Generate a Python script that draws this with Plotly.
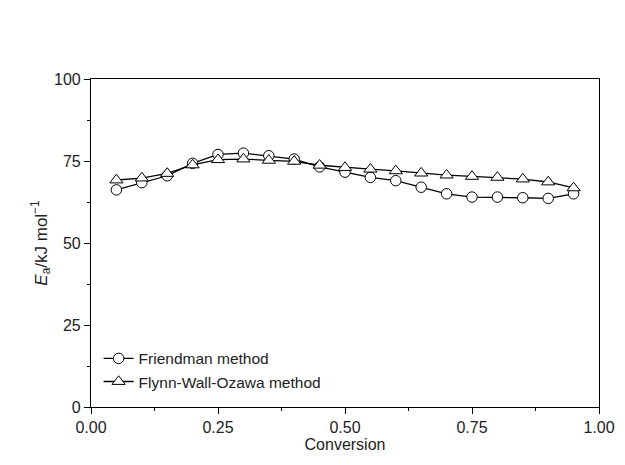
import plotly.graph_objects as go

conversion = [0.05, 0.10, 0.15, 0.20, 0.25, 0.30, 0.35, 0.40, 0.45, 0.50,
              0.55, 0.60, 0.65, 0.70, 0.75, 0.80, 0.85, 0.90, 0.95]
friedman = [66.2, 68.4, 70.5, 74.3, 77.0, 77.4, 76.6, 75.6, 73.2, 71.6,
            70.0, 69.0, 67.0, 65.0, 64.0, 64.0, 63.8, 63.6, 65.0]
fwo = [69.2, 69.8, 71.2, 73.8, 75.4, 75.6, 75.2, 74.9, 73.7, 73.0,
       72.5, 72.0, 71.3, 70.7, 70.3, 70.0, 69.5, 68.6, 66.8]

fig = go.Figure()
fig.add_trace(go.Scatter(
    x=conversion, y=friedman, mode="lines+markers", name="Friendman method",
    line=dict(color="black", width=1.3),
    marker=dict(symbol="circle", size=10.5, color="white", line=dict(color="black", width=1))))
fig.add_trace(go.Scatter(
    x=conversion, y=fwo, mode="lines+markers", name="Flynn-Wall-Ozawa method",
    line=dict(color="black", width=1.3),
    marker=dict(symbol="triangle-up", size=11.5, color="white", line=dict(color="black", width=1))))

axis_common = dict(showline=True, linecolor="black", linewidth=1.2, mirror=True,
                   ticks="outside", ticklen=6, tickwidth=1.2, tickcolor="black",
                   showgrid=False, zeroline=False,
                   tickfont=dict(size=16, color="#222"))

fig.update_layout(
    width=625, height=465,
    paper_bgcolor="white", plot_bgcolor="white",
    font=dict(family="Liberation Sans, Arial, sans-serif", size=16, color="#222"),
    margin=dict(l=83, r=34, t=71, b=66),
    showlegend=True,
    legend=dict(x=0.015, y=0.025, xanchor="left", yanchor="bottom",
                bgcolor="rgba(0,0,0,0)", borderwidth=0, font=dict(size=15.5),
                tracegroupgap=0),
    xaxis=dict(range=[0, 1], tickvals=[0, 0.25, 0.5, 0.75, 1.0],
               ticktext=["0.00", "0.25", "0.50", "0.75", "1.00"],
               title=dict(text="Conversion", font=dict(size=16), standoff=0),
               minor=dict(ticks="outside", ticklen=3, tickwidth=1, tickcolor="black", dtick=0.125),
               **axis_common),
    yaxis=dict(range=[0, 100], tickvals=[0, 25, 50, 75, 100],
               title=dict(text="<i>E</i><sub>a</sub>/kJ mol<sup>−1</sup>", font=dict(size=17), standoff=2),
               minor=dict(ticks="outside", ticklen=3, tickwidth=1, tickcolor="black", dtick=12.5),
               **axis_common),
)

fig.write_html("out.html")
